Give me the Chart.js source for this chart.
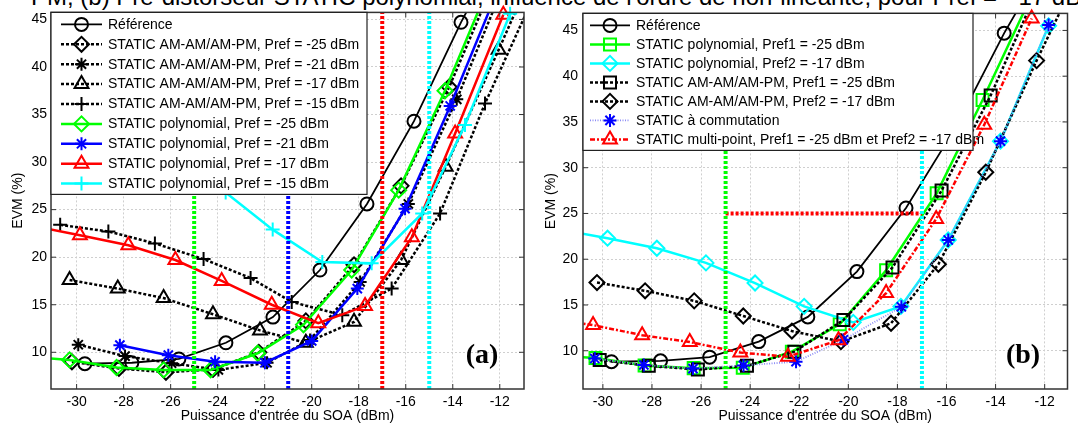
<!DOCTYPE html>
<html><head><meta charset="utf-8">
<script src="https://cdn.jsdelivr.net/npm/chart.js@4/dist/chart.umd.min.js"></script>
<style>
html,body{margin:0;padding:0;background:#fff;width:1078px;height:425px;overflow:hidden;position:relative;font-family:"Liberation Sans",Arial,sans-serif}
#cap{position:absolute;left:31px;top:-16px;font-size:24px;white-space:nowrap;line-height:26px;color:#000}
.box{position:absolute;top:0;height:425px;width:540px}
#wa{left:0} #wb{left:538px}
</style></head><body>
<div id="cap">PM, (b) Pré-distorseur STATIC polynomial, influence de l'ordre de non-linéarité, pour Pref = - 17 dB</div>
<div class="box" id="wa"><canvas id="ca" width="540" height="425"></canvas></div>
<div class="box" id="wb"><canvas id="cb" width="540" height="425"></canvas></div>
<script>
// ---------- data ----------
const xTicks = [-30,-28,-26,-24,-22,-20,-18,-16,-14,-12];
const yTicks = [10,15,20,25,30,35,40,45];
const xTitle = "Puissance d'entrée du SOA (dBm)";
const yTitle = "EVM (%)";

// common reference
const refX = [-29.65,-27.65,-25.65,-23.65,-21.65,-19.65,-17.65,-15.65,-13.65,-11.65];
const refY = [8.8,8.9,9.3,11.0,13.7,18.65,25.6,34.3,44.7,54];

// (a) STATIC AM-AM/AM-PM
const amA25X = [-30.2,-28.2,-26.2,-24.2,-22.25,-20.25,-18.2,-16.2,-14.15,-12.15];
const amA25Y = [9.0,8.3,7.9,8.2,10.0,13.3,19.2,27.5,37.9,49.5];
const amA21X = [-29.93,-27.94,-25.96,-23.97,-21.9,-20.07,-17.94,-15.89,-13.83,-11.8];
const amA21Y = [10.8,9.6,8.85,8.15,8.9,11.3,17.4,25.6,36.6,48.8];
const amA17X = [-30.3,-28.25,-26.3,-24.2,-22.2,-20.25,-18.2,-16.2,-14.3,-12.05,-10.05];
const amA17Y = [17.6,16.7,15.7,14.0,12.3,11.0,13.2,19.7,29.5,41.8,53];
const amA15X = [-30.7,-28.65,-26.67,-24.6,-22.6,-20.85,-18.7,-16.6,-14.54,-12.63,-10.63];
const amA15Y = [23.4,22.7,21.45,19.8,17.8,15.3,13.9,16.7,24.6,36.15,47];
// (a) STATIC polynomial
const polA25X = [-32.3,-30.3,-28.3,-26.3,-24.3,-22.3,-20.35,-18.3,-16.3,-14.33,-12.3];
const polA25Y = [9.6,9.2,8.4,8.15,8.15,9.9,12.9,18.65,27.05,37.5,49.5];
const polA21X = [-28.16,-26.1,-24.11,-21.99,-20.0,-18.06,-16.03,-14.11,-12.1];
const polA21Y = [10.75,9.7,9.0,8.9,11.2,16.7,25.1,35.9,48];
const polA17X = [-31.85,-29.86,-27.8,-25.8,-23.83,-21.7,-19.72,-17.73,-15.74,-13.9,-11.85];
const polA17Y = [23.3,22.3,21.25,19.7,17.5,15.0,13.05,14.86,22.1,33.0,45.5];
const polA15X = [-25.66,-23.66,-21.66,-19.55,-17.45,-15.3,-13.48,-11.56];
const polA15Y = [30.0,26.8,22.9,19.5,19.35,24.6,33.9,45.6];
const prefLinesA = [-25,-21,-17,-15];

// (b)
const polB25X = [-32.3,-30.3,-28.3,-26.3,-24.3,-22.3,-20.35,-18.46,-16.4,-14.53,-12.5];
const polB25Y = [9.6,9.2,8.4,8.1,8.15,9.9,12.9,18.8,27.2,37.4,49];
const polB17X = [-31.85,-29.81,-27.8,-25.8,-23.8,-21.8,-19.8,-17.86,-15.93,-13.8,-11.84];
const polB17Y = [23.3,22.3,21.2,19.6,17.4,14.85,13.1,14.85,22.1,32.9,45.5];
const amB25X = [-30.13,-28.13,-26.13,-24.13,-22.2,-20.2,-18.2,-16.2,-14.2,-12.2];
const amB25Y = [9.0,8.35,7.95,8.35,9.9,13.35,19.1,27.5,37.9,50];
const amB17X = [-30.24,-28.28,-26.28,-24.28,-22.3,-20.3,-18.26,-16.33,-14.4,-12.33,-10.3];
const amB17Y = [17.45,16.55,15.45,13.8,12.15,11.0,13.0,19.45,29.5,41.7,53];
const comX = [-30.33,-28.33,-26.33,-24.27,-22.13,-20.2,-17.84,-15.93,-13.8,-11.84];
const comY = [9.15,8.45,8.05,8.4,8.8,11.2,14.8,22.1,32.9,45.6];
const mpX = [-32.4,-30.4,-28.4,-26.46,-24.4,-22.46,-20.4,-18.46,-16.42,-14.46,-12.53];
const mpY = [13.6,12.8,11.7,10.95,9.8,9.35,11.15,16.3,24.4,34.7,46.3];
const prefLinesB = [-25,-17];
const evmTarget = 25;          // horizontal limit in (b)
const evmTargetRange = [-25,-17];

// ---------- helpers ----------
const FONT = '"Liberation Sans", Arial, sans-serif';
const TOPCLIP = {left:0,right:0,bottom:0,top:10};
function pts(xs, ys){ return xs.map((x,i)=>({x:x,y:ys[i]})); }
function series(label, xs, ys, st){
  return Object.assign({label:label, data:pts(xs,ys), inLegend:true, tension:0, fill:false,
    pointBackgroundColor:'rgba(0,0,0,0)', clip:0}, st);
}
function mk(color, width, dash, ps, pr){
  return {borderColor:color, borderWidth:width, borderDash:dash, pointStyle:ps, pointRadius:pr,
    pointBorderColor:color, pointBorderWidth:2};
}
const R = {circle:6.5, rectRot:7.5, star:6.5, triangle:8, cross:7, rect:8.5};

function drawMarker(ctx, style, x, y, r, color, lw){
  ctx.save(); ctx.setLineDash([]); ctx.strokeStyle=color; ctx.lineWidth=lw; ctx.beginPath();
  if(style==='circle'){ ctx.arc(x,y,r,0,Math.PI*2); }
  else if(style==='rectRot'){ ctx.moveTo(x-r,y); ctx.lineTo(x,y-r); ctx.lineTo(x+r,y); ctx.lineTo(x,y+r); ctx.closePath(); }
  else if(style==='rect'){ const s=r*Math.SQRT1_2; ctx.rect(x-s,y-s,2*s,2*s); }
  else if(style==='triangle'){ for(let k=0;k<3;k++){const a=k*2*Math.PI/3; const px=x+Math.sin(a)*r, py=y-Math.cos(a)*r; k?ctx.lineTo(px,py):ctx.moveTo(px,py);} ctx.closePath(); }
  else if(style==='cross'){ ctx.moveTo(x-r,y); ctx.lineTo(x+r,y); ctx.moveTo(x,y-r); ctx.lineTo(x,y+r); }
  else if(style==='star'){ ctx.moveTo(x-r,y); ctx.lineTo(x+r,y); ctx.moveTo(x,y-r); ctx.lineTo(x,y+r);
    const d=r*Math.SQRT1_2; ctx.moveTo(x-d,y-d); ctx.lineTo(x+d,y+d); ctx.moveTo(x-d,y+d); ctx.lineTo(x+d,y-d); }
  ctx.stroke(); ctx.restore();
}

function framePlugin(cfg){
  return {
    id:'frame'+cfg.tag,
    afterDatasetsDraw(chart){
      const ctx=chart.ctx, ca=chart.chartArea, xs=chart.scales.x, ys=chart.scales.y;
      ctx.save();
      // axes box + inner ticks
      ctx.strokeStyle='#333'; ctx.lineWidth=1.5; ctx.setLineDash([]);
      ctx.strokeRect(ca.left, ca.top, ca.right-ca.left, ca.bottom-ca.top);
      ctx.lineWidth=1; ctx.beginPath();
      xTicks.forEach(v=>{const p=xs.getPixelForValue(v); ctx.moveTo(p,ca.bottom); ctx.lineTo(p,ca.bottom-5); ctx.moveTo(p,ca.top); ctx.lineTo(p,ca.top+5);});
      yTicks.forEach(v=>{const p=ys.getPixelForValue(v); ctx.moveTo(ca.left,p); ctx.lineTo(ca.left+5,p); ctx.moveTo(ca.right,p); ctx.lineTo(ca.right-5,p);});
      ctx.stroke();
      // legend
      const L=cfg.legend, x0=ca.left, y0=ca.top;
      ctx.fillStyle='#fff'; ctx.fillRect(x0,y0,L.w,L.h);
      ctx.strokeStyle='#222'; ctx.lineWidth=1.2; ctx.strokeRect(x0,y0,L.w,L.h);
      ctx.font='14px '+FONT; ctx.textBaseline='middle'; ctx.textAlign='left';
      const items=chart.data.datasets.filter(d=>d.inLegend);
      items.forEach((d,i)=>{
        const y=y0+L.first+i*L.step;
        ctx.save(); ctx.strokeStyle=d.borderColor; ctx.lineWidth=d.borderWidth; ctx.setLineDash(d.borderDash||[]);
        ctx.beginPath(); ctx.moveTo(x0+L.l1,y); ctx.lineTo(x0+L.l2,y); ctx.stroke(); ctx.restore();
        drawMarker(ctx, d.pointStyle, x0+(L.l1+L.l2)/2, y, d.pointRadius, d.pointBorderColor, 2);
        ctx.fillStyle='#000'; ctx.fillText(d.label, x0+L.tx, y+0.5);
      });
      // panel label
      ctx.font='bold 28px "Liberation Serif", "Times New Roman", serif'; ctx.textAlign='center'; ctx.textBaseline='middle';
      ctx.fillStyle='#000'; ctx.fillText(cfg.tag, ca.right-cfg.labDx, ca.bottom-33);
      ctx.restore();
    }
  };
}

function options(ax){
  return {
    responsive:false, animation:false, devicePixelRatio:1,
    layout:{padding:{left:0,top:ax.top,right:ax.right,bottom:0}},
    plugins:{legend:{display:false}, tooltip:{enabled:false}},
    elements:{line:{tension:0}},
    scales:{
      x:{type:'linear', min:ax.xmin, max:ax.xmax,
        afterFit(s){ s.height=36; },
        afterBuildTicks(s){ s.ticks=xTicks.map(v=>({value:v})); },
        ticks:{color:'#000', font:{family:FONT,size:14}, padding:5, maxRotation:0, autoSkip:false, callback:v=>String(v)},
        grid:{color:'#cfcfcf', lineWidth:1, drawTicks:false},
        border:{display:false, dash:[2,2]},
        title:{display:true, text:xTitle, color:'#000', font:{family:FONT,size:14}, padding:{top:0,bottom:0}}
      },
      y:{type:'linear', min:ax.ymin, max:ax.ymax,
        afterFit(s){ s.width=ax.yw; },
        afterBuildTicks(s){ s.ticks=yTicks.map(v=>({value:v})); },
        ticks:{color:'#000', font:{family:FONT,size:14}, padding:ax.ytp, autoSkip:false, callback:v=>String(v)},
        grid:{color:'#cfcfcf', lineWidth:1, drawTicks:false},
        border:{display:false, dash:[2,2]},
        title:{display:true, text:yTitle, color:'#000', font:{family:FONT,size:14}, padding:{top:ax.ytt,bottom:0}}
      }
    }
  };
}

const BLKD=[3,2];
// ---------- chart (a) ----------
const axA={xmin:-31.09, xmax:-10.97, ymin:6.14, ymax:45.74, top:12, right:16, yw:51, ytp:4, ytt:9.6};
const dsA=[
  series('Référence', refX, refY, mk('#000',1.8,[], 'circle', R.circle)),
  series('STATIC AM-AM/AM-PM, Pref = -25 dBm', amA25X, amA25Y, mk('#000',2.5,BLKD,'rectRot',R.rectRot)),
  series('STATIC AM-AM/AM-PM, Pref = -21 dBm', amA21X, amA21Y, mk('#000',2.5,BLKD,'star',R.star)),
  series('STATIC AM-AM/AM-PM, Pref = -17 dBm', amA17X, amA17Y, mk('#000',2.5,BLKD,'triangle',R.triangle)),
  series('STATIC AM-AM/AM-PM, Pref = -15 dBm', amA15X, amA15Y, mk('#000',2.5,BLKD,'cross',R.cross)),
  series('STATIC polynomial, Pref = -25 dBm', polA25X, polA25Y, mk('#00ff00',2.5,[],'rectRot',R.rectRot)),
  series('STATIC polynomial, Pref = -21 dBm', polA21X, polA21Y, mk('#0000ff',2.5,[],'star',R.star)),
  series('STATIC polynomial, Pref = -17 dBm', polA17X, polA17Y, Object.assign(mk('#ff0000',2.5,[],'triangle',R.triangle),{clip:TOPCLIP})),
  series('STATIC polynomial, Pref = -15 dBm', polA15X, polA15Y, Object.assign(mk('#00ffff',2.5,[],'cross',R.cross),{clip:TOPCLIP}))
];
dsA.forEach((d,i)=>d.order=-i);
const vColA=['#00ff00','#0000ff','#ff0000','#00ffff'];
prefLinesA.forEach((v,i)=>dsA.push({data:[{x:v,y:axA.ymin},{x:v,y:axA.ymax}], borderColor:vColA[i], borderWidth:4,
  borderDash:[3,2], pointRadius:0, order:-100, clip:0}));

new Chart(document.getElementById('ca'), {type:'line', data:{datasets:dsA}, options:options(axA),
  plugins:[framePlugin({tag:'(a)', labDx:42, legend:{w:316,h:182,first:12,step:19.9,l1:10,l2:51,tx:57}})]});

// ---------- chart (b) ----------
const axB={xmin:-30.81, xmax:-11.07, ymin:5.82, ymax:46.86, top:13, right:1.5, yw:45, ytp:5, ytt:4.6};
const dsB=[
  series('Référence', refX, refY, mk('#000',1.8,[],'circle',R.circle)),
  series('STATIC polynomial, Pref1 = -25 dBm', polB25X, polB25Y, mk('#00ff00',2.5,[],'rect',R.rect)),
  series('STATIC polynomial, Pref2 = -17 dBm', polB17X, polB17Y, Object.assign(mk('#00ffff',2.5,[],'rectRot',R.rectRot),{clip:TOPCLIP})),
  series('STATIC AM-AM/AM-PM, Pref1 = -25 dBm', amB25X, amB25Y, mk('#000',2.5,BLKD,'rect',R.rect)),
  series('STATIC AM-AM/AM-PM, Pref2 = -17 dBm', amB17X, amB17Y, mk('#000',2.5,BLKD,'rectRot',R.rectRot)),
  series('STATIC à commutation', comX, comY, Object.assign(mk('#8c8cf5',1.8,[1,1.5],'star',R.star),{pointBorderColor:'#0000ff',clip:TOPCLIP})),
  series('STATIC multi-point, Pref1 = -25 dBm et Pref2 = -17 dBm', mpX, mpY, Object.assign(mk('#ff0000',2.5,[5,2,2,2],'triangle',R.triangle),{clip:TOPCLIP}))
];
dsB.forEach((d,i)=>d.order=-i);
const vColB=['#00ff00','#00ffff'];
prefLinesB.forEach((v,i)=>dsB.push({data:[{x:v,y:axB.ymin},{x:v,y:axB.ymax}], borderColor:vColB[i], borderWidth:4,
  borderDash:[3,2], pointRadius:0, order:-100, clip:0}));
dsB.push({data:[{x:evmTargetRange[0],y:evmTarget},{x:evmTargetRange[1],y:evmTarget}], borderColor:'#ff0000', borderWidth:4,
  borderDash:[3,2], pointRadius:0, order:-100, clip:0});

new Chart(document.getElementById('cb'), {type:'line', data:{datasets:dsB}, options:options(axB),
  plugins:[framePlugin({tag:'(b)', labDx:44.5, legend:{w:390,h:137,first:12,step:19,l1:7,l2:47,tx:53}})]});
</script>
</body></html>
